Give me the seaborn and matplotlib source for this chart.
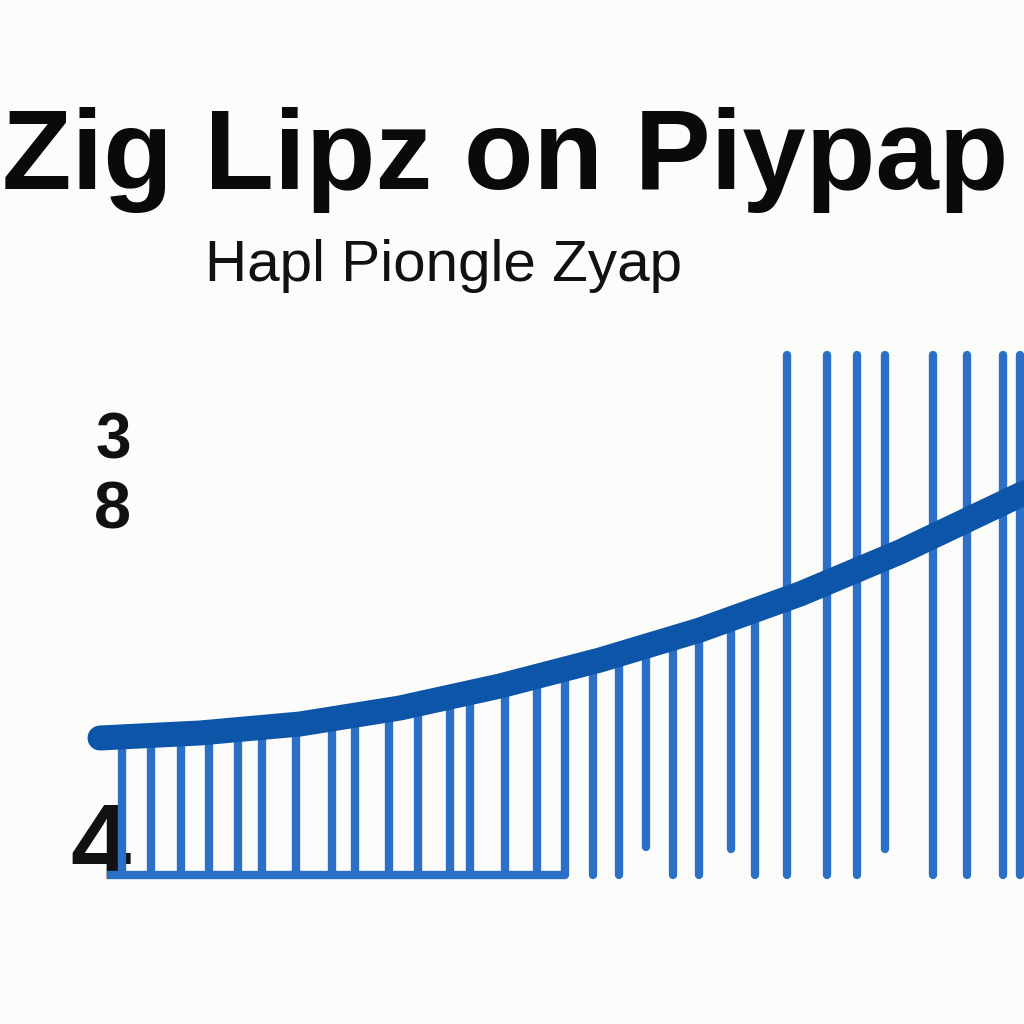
import matplotlib
matplotlib.use("Agg")
import matplotlib.pyplot as plt
import seaborn as sns
import numpy as np
import pandas as pd

# ---- data ----
title = "Zig Lipz on Piypap"
subtitle = "Hapl Piongle Zyap"

stem_x = [2.2, 5.1, 8.1, 10.9, 13.8, 16.2, 19.6, 23.2, 25.5, 28.9, 31.8, 35.0,
          37.0, 40.5, 43.7, 46.5, 49.3, 51.9, 54.6, 57.3, 59.9, 63.1, 65.5,
          68.7, 72.7, 75.7, 78.5, 83.3, 86.7, 90.3, 92.0]
stem_top = [13.8, 13.9, 14.1, 14.3, 14.5, 14.8, 15.1, 15.5, 15.8, 16.4, 17.0, 17.6,
            18.1, 18.9, 19.7, 20.4, 21.2, 21.9, 22.8, 23.6, 24.4, 25.5, 26.4,
            52.0, 52.0, 52.0, 52.0, 52.0, 52.0, 52.0, 52.0]
stem_bottom = [0, 0, 0, 0, 0, 0, 0, 0, 0, 0, 0, 0,
               0, 0, 0, 0, 0, 0, 2.8, 0, 0, 2.6, 0,
               0, 0, 0, 2.6, 0, 0, 0, 0]

curve_x = [0, 10, 20, 30, 40, 50, 60, 70, 80, 92.4]
curve_y = [13.7, 14.2, 15.1, 16.7, 18.9, 21.5, 24.5, 28.1, 32.3, 38.2]

ytick_vals = [3.5, 37.0, 44.0]
ytick_labels = ["4", "8", "3"]
ytick_sizes = [78, 48, 46]

stem_color = "#2b70c6"
curve_color = "#0c55a8"
bg = "#fcfcfa"

sns.set_theme(style="white")
plt.rcParams['font.family'] = ['Liberation Sans', 'DejaVu Sans']

fig = plt.figure(figsize=(10.24, 10.24), dpi=100, facecolor=bg)
ax = fig.add_axes([0.125, 0.1211, 0.875, 0.5664])
ax.set_facecolor(bg)

ax.vlines(stem_x, stem_bottom, stem_top, color=stem_color, linewidth=6,
          capstyle="round", zorder=2, clip_on=False)
base_n = 16
ax.hlines(0, stem_x[0] - 1.5, stem_x[base_n - 1], color=stem_color, linewidth=6,
          zorder=2, clip_on=False)

df = pd.DataFrame({"x": curve_x, "y": curve_y})
sns.lineplot(data=df, x="x", y="y", ax=ax, color=curve_color, linewidth=18,
             solid_capstyle="round", zorder=3, clip_on=False, legend=False)

ax.set_xlim(2.8, 92.4)
ax.set_ylim(-2.5, 55.5)
ax.set_xticks([])
ax.set_yticks(ytick_vals)
ax.set_yticklabels(ytick_labels)
for lab, s in zip(ax.get_yticklabels(), ytick_sizes):
    lab.set_fontsize(s)
    lab.set_fontweight("bold")
    lab.set_color("#111111")
ax.tick_params(axis="y", length=0, pad=-2)
ax.set_xlabel("")
ax.set_ylabel("")
for sp in ax.spines.values():
    sp.set_visible(False)

fig.text(0.002, 0.815, title, fontsize=82, color="#0a0a0a", ha="left",
         va="baseline", fontweight="bold")
fig.text(0.2, 0.726, subtitle, fontsize=42, color="#111111", ha="left",
         va="baseline")

fig.savefig("out.png", dpi=100, facecolor=bg)
